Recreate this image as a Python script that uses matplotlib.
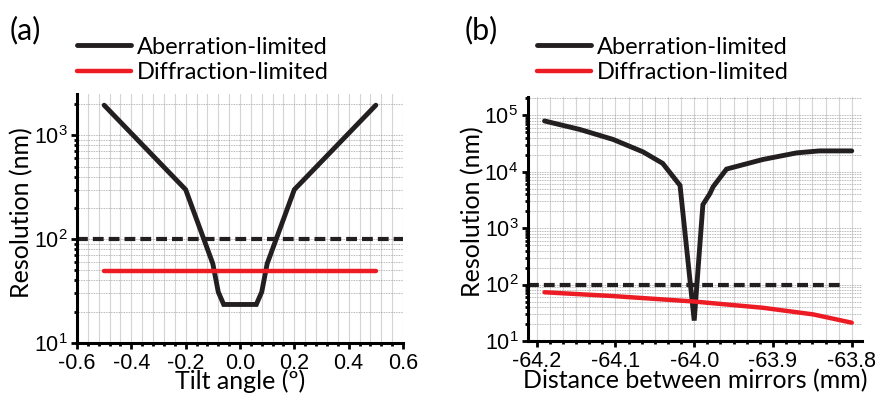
import matplotlib
matplotlib.use("Agg")
import matplotlib.pyplot as plt
from matplotlib.ticker import AutoMinorLocator, LogLocator, NullFormatter, MultipleLocator

plt.rcParams["font.family"] = ["Liberation Sans", "DejaVu Sans"]
plt.rcParams["mathtext.fontset"] = "custom"
plt.rcParams["mathtext.rm"] = "Liberation Sans"
plt.rcParams["mathtext.it"] = "Liberation Sans"
plt.rcParams["mathtext.default"] = "regular"

# ---- data: panel (a)
tilt = [-0.5, -0.2, -0.1, -0.08, -0.06, 0.06, 0.08, 0.1, 0.2, 0.5]
tilt_aber = [1950, 300, 58, 31, 23.5, 23.5, 31, 58, 300, 1950]
tilt_diff_x = [-0.5, 0.5]
tilt_diff = [49.5, 49.5]
tilt_thresh_x = [-0.6, 0.6]

# ---- data: panel (b)
dist = [-64.19, -64.145, -64.103, -64.065, -64.04, -64.018, -64.0,
        -63.989, -63.98, -63.976, -63.959, -63.913, -63.87, -63.841, -63.8]
dist_aber = [79000, 55800, 37200, 22400, 14000, 5700, 23,
             2600, 4100, 5400, 11100, 16400, 21500, 23300, 23300]
dist_diff_x = [-64.19, -64.103, -64.0, -63.913, -63.849, -63.8]
dist_diff = [73, 62.5, 50, 38.8, 29.6, 21.1]
dist_thresh_x = [-64.211, -63.812]

threshold = 100
labels = ["Aberration-limited", "Diffraction-limited"]

W, H = 877, 396
fig = plt.figure(figsize=(W / 100, H / 100), dpi=100)
LATO = ["Lato", "DejaVu Sans"]


def px_axes(left, top, right, bottom):
    return fig.add_axes([left / W, 1 - bottom / H, (right - left) / W, (bottom - top) / H])


def style(ax, nminor):
    ax.set_yscale("log")
    for s in ["top", "right"]:
        ax.spines[s].set_visible(False)
    for s in ["left", "bottom"]:
        ax.spines[s].set_linewidth(2.2)
    ax.yaxis.set_major_locator(LogLocator(base=10, numticks=10))
    ax.yaxis.set_minor_locator(LogLocator(base=10, subs=range(2, 10), numticks=20))
    ax.yaxis.set_minor_formatter(NullFormatter())
    ax.xaxis.set_minor_locator(AutoMinorLocator(nminor))
    ax.tick_params(which="major", direction="out", length=4, width=2,
                   labelsize=15.5, pad=3)
    ax.tick_params(which="minor", direction="out", length=2.5, width=2)
    ax.grid(axis="x", which="both", color="#d4d4d4", lw=0.8, ls="-")
    ax.grid(axis="y", which="both", color="#a0a0a0", lw=0.6, ls=(0, (1, 1)))
    ax.set_axisbelow(True)


# ---- panel (a)
ax1 = px_axes(77, 94, 403, 343)
style(ax1, 5)
ax1.plot(tilt_thresh_x, [threshold] * 2, color="#231f20", lw=3,
         dashes=(2.6, 1.2))
l1, = ax1.plot(tilt, tilt_aber, color="#231f20", lw=3.5, solid_capstyle="round",
               solid_joinstyle="miter", label=labels[0])
l2, = ax1.plot(tilt_diff_x, tilt_diff, color="#ed1c24", lw=3.2,
               solid_capstyle="round", label=labels[1])
ax1.set_xlim(-0.6, 0.6)
ax1.set_ylim(10, 2500)
ax1.xaxis.set_major_locator(MultipleLocator(0.2))
ax1.set_xticklabels(["%.1f" % v for v in ax1.get_xticks()])
ax1.set_xlabel("Tilt angle (º)", fontsize=18, family=LATO)
ax1.set_ylabel("Resolution (nm)", fontsize=18, family=LATO)
ax1.xaxis.set_label_coords(0.5, -0.105)
ax1.yaxis.set_label_coords(-0.135, 0.524)

# ---- panel (b)
ax2 = px_axes(528, 97, 862, 341)
style(ax2, 6)
ax2.plot(dist_thresh_x, [threshold] * 2, color="#231f20", lw=3,
         dashes=(2.6, 1.2))
ax2.plot(dist, dist_aber, color="#231f20", lw=3.5, solid_capstyle="round",
         solid_joinstyle="miter")
ax2.plot(dist_diff_x, dist_diff, color="#ed1c24", lw=3.2, solid_capstyle="round")
ax2.set_xlim(-64.211, -63.787)
ax2.set_ylim(10, 2.1e5)
ax2.set_xticks([-64.2, -64.1, -64.0, -63.9, -63.8])
ax2.set_xticklabels(["-64.2", "-64.1", "-64.0", "-63.9", "-63.8"])
ax2.set_xlabel("Distance between mirrors (mm)", fontsize=18, family=LATO)
ax2.set_ylabel("Resolution (nm)", fontsize=18, family=LATO)
ax2.xaxis.set_label_coords(0.5, -0.115)
ax2.yaxis.set_label_coords(-0.132, 0.529)

# ---- legends
for xpx in (77, 537):
    fig.legend([l1, l2], labels, loc="center left",
               bbox_to_anchor=(xpx / W, 1 - 60 / H), frameon=False,
               borderpad=0, borderaxespad=0, handlelength=2.3,
               handletextpad=0.25, labelspacing=0.2,
               prop={"family": LATO, "size": 17})

fig.text(10 / W, 1 - 30 / H, "(a)", fontsize=22, va="center", family=LATO)
fig.text(465 / W, 1 - 30 / H, "(b)", fontsize=22, va="center", family=LATO)

fig.savefig("out.png", dpi=100)
